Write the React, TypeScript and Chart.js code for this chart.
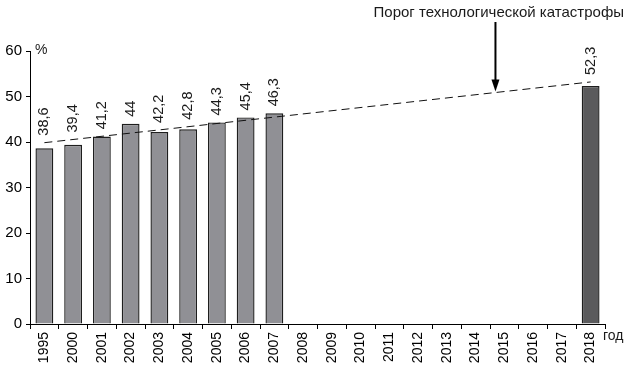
import React, { useEffect, useRef } from "react";
import { Chart, registerables } from "chart.js";

Chart.register(...registerables);

const categories = ["1995","2000","2001","2002","2003","2004","2005","2006","2007","2008","2009","2010","2011","2012","2013","2014","2015","2016","2017","2018"];
const shareValues: (number | null)[] = [38.6, 39.4, 41.2, 44, 42.2, 42.8, 44.3, 45.4, 46.3, null, null, null, null, null, null, null, null, null, null, 52.3];
const trendValues: (number | null)[] = [39.85, null, null, null, null, null, null, null, null, null, null, null, null, null, null, null, null, null, null, 53.2];
const valueLabels = ["38,6","39,4","41,2","44","42,2","42,8","44,3","45,4","46,3","","","","","","","","","","","52,3"];
const yTicks = [0, 10, 20, 30, 40, 50, 60];
const titleText = "Порог технологической катастрофы";
const arrowIndex = 15.69;
const xUnit = "год";
const yUnit = "%";

const FONT = "'Liberation Sans', Arial, sans-serif";

export default function App() {
  const ref = useRef<HTMLCanvasElement | null>(null);
  useEffect(() => {
    if (!ref.current) return;
    const overlay = {
      id: "overlay",
      afterDatasetsDraw(chart: any) {
        const ctx = chart.ctx;
        const xs = chart.scales.x;
        const ys = chart.scales.y;
        const lineMeta = chart.getDatasetMeta(1);
        const pts = lineMeta.data.filter((p: any, i: number) => trendValues[i] !== null);
        const p0 = pts[0], p1 = pts[pts.length - 1];
        const lineY = (x: number) => p0.y + (p1.y - p0.y) * (x - p0.x) / (p1.x - p0.x);
        const barMeta = chart.getDatasetMeta(0);
        ctx.save();
        ctx.fillStyle = "#1a1a1a";
        ctx.font = `14.5px ${FONT}`;
        ctx.textAlign = "left";
        ctx.textBaseline = "middle";
        barMeta.data.forEach((bar: any, i: number) => {
          if (shareValues[i] === null) return;
          const top = Math.min(bar.y, lineY(bar.x));
          ctx.save();
          ctx.translate(bar.x, top - 7);
          ctx.rotate(-Math.PI / 2);
          ctx.fillText(valueLabels[i], 0, 0);
          ctx.restore();
        });
        // units
        ctx.font = `14px ${FONT}`;
        ctx.textAlign = "left";
        ctx.textBaseline = "middle";
        ctx.fillText(yUnit, chart.chartArea.left + 5, ys.getPixelForValue(60) - 1);
        ctx.fillText(xUnit, chart.chartArea.right - 2, chart.chartArea.bottom + 12);
        // title
        ctx.font = `15px ${FONT}`;
        ctx.textAlign = "right";
        ctx.fillText(titleText, 624, 13);
        // arrow
        const ax = xs.getPixelForValue(arrowIndex);
        const tipY = lineY(ax) - 1;
        ctx.strokeStyle = "#000";
        ctx.lineWidth = 2;
        ctx.beginPath();
        ctx.moveTo(ax, 22);
        ctx.lineTo(ax, tipY - 8);
        ctx.stroke();
        ctx.beginPath();
        ctx.moveTo(ax, tipY);
        ctx.lineTo(ax - 4, tipY - 12);
        ctx.lineTo(ax + 4, tipY - 12);
        ctx.closePath();
        ctx.fillStyle = "#000";
        ctx.fill();
        ctx.restore();
      },
    };
    const chart = new Chart(ref.current, {
      type: "bar",
      data: {
        labels: categories,
        datasets: [
          {
            type: "bar",
            data: shareValues,
            backgroundColor: shareValues.map((_, i) => (i === shareValues.length - 1 ? "#5a5a5c" : "#909095")),
            borderColor: "#1e1e1e",
            borderWidth: 1.4,
            categoryPercentage: 1,
            barPercentage: 0.62,
            order: 2,
          } as any,
          {
            type: "line",
            data: trendValues,
            borderColor: "#111",
            borderWidth: 1,
            borderDash: [8, 5],
            pointRadius: 0,
            spanGaps: true,
            fill: false,
            order: 1,
          } as any,
        ],
      },
      options: {
        responsive: false,
        animation: false,
        layout: { padding: { top: 51, right: 21, left: 0, bottom: 0 } },
        plugins: { legend: { display: false }, tooltip: { enabled: false }, title: { display: false } },
        scales: {
          x: {
            offset: true,
            grid: { display: true, offset: true, drawOnChartArea: false, drawTicks: true, tickLength: 5, color: "#000" },
            border: { display: true, color: "#000", width: 1 },
            ticks: { minRotation: 90, maxRotation: 90, autoSkip: false, padding: 3, color: "#000", font: { size: 14, family: FONT } },
            afterFit: (s: any) => { s.height = 48; },
          },
          y: {
            min: 0,
            max: 60,
            afterBuildTicks: (s: any) => { s.ticks = yTicks.map((v) => ({ value: v })); },
            grid: { display: true, drawOnChartArea: false, drawTicks: true, tickLength: 4, color: "#000" },
            border: { display: true, color: "#000", width: 1 },
            ticks: { padding: 4, color: "#000", font: { size: 15, family: FONT } },
            afterFit: (s: any) => { s.width = 30; },
          },
        },
      },
      plugins: [overlay],
    });
    return () => chart.destroy();
  }, []);
  return (
    <div style={{ position: "absolute", left: 0, top: 0, width: 626, height: 372, background: "#fff" }}>
      <canvas ref={ref} width={626} height={372} />
    </div>
  );
}
